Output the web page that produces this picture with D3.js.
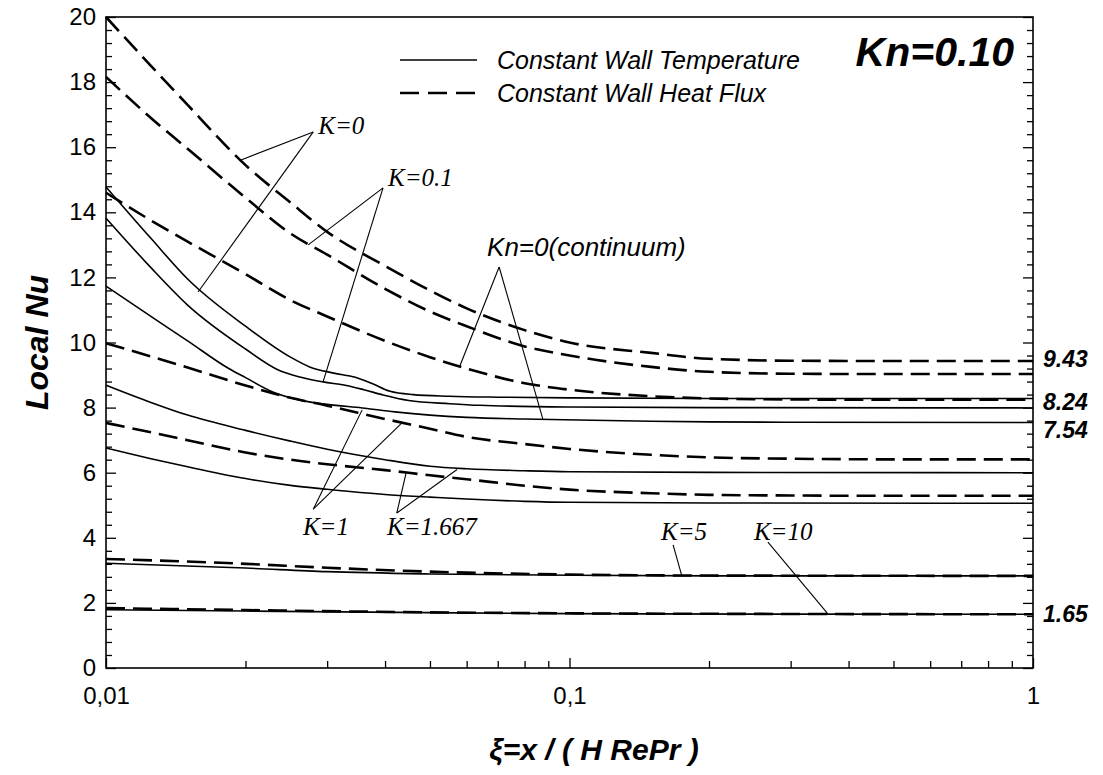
<!DOCTYPE html>
<html>
<head>
<meta charset="utf-8">
<script src="https://cdn.jsdelivr.net/npm/d3@7"></script>
<style>
  html, body { margin: 0; padding: 0; background: #fff; }
  svg { display: block; }
</style>
</head>
<body>
<svg id="chart" width="1103" height="775"></svg>
<script>
// Local Nusselt number along the channel, Kn = 0.10
// Each series: [xi, Nu] pairs

// Constant wall heat flux (dashed)
const fluxK0     = [[0.01,20.0],[0.0125,18.5],[0.015,17.3],[0.02,15.45],[0.025,14.3],[0.03,13.4],[0.04,12.35],[0.05,11.6],[0.06,11.05],[0.08,10.38],[0.1,10.0],[0.15,9.68],[0.2,9.5],[0.3,9.44],[0.5,9.43],[1,9.43]];
const fluxK01    = [[0.01,18.16],[0.0125,16.9],[0.015,15.95],[0.02,14.45],[0.025,13.35],[0.03,12.7],[0.04,11.65],[0.05,10.95],[0.06,10.5],[0.08,9.88],[0.1,9.6],[0.15,9.25],[0.2,9.1],[0.3,9.04],[0.5,9.03],[1,9.03]];
const fluxKn0    = [[0.01,14.6],[0.0125,13.75],[0.015,13.1],[0.02,12.1],[0.025,11.3],[0.03,10.8],[0.04,10.05],[0.05,9.55],[0.06,9.2],[0.08,8.75],[0.1,8.55],[0.15,8.35],[0.2,8.28],[0.3,8.25],[0.5,8.24],[1,8.24]];
const fluxK1     = [[0.01,9.98],[0.0125,9.57],[0.015,9.23],[0.02,8.68],[0.025,8.3],[0.03,8.06],[0.04,7.65],[0.05,7.35],[0.06,7.1],[0.08,6.88],[0.1,6.73],[0.15,6.55],[0.2,6.47],[0.3,6.43],[0.5,6.41],[1,6.41]];
const fluxK1667  = [[0.01,7.53],[0.0125,7.24],[0.015,7.0],[0.02,6.62],[0.025,6.4],[0.03,6.26],[0.04,6.08],[0.05,5.92],[0.06,5.8],[0.08,5.6],[0.1,5.48],[0.15,5.37],[0.2,5.32],[0.3,5.3],[0.5,5.29],[1,5.29]];
const fluxK5     = [[0.01,3.35],[0.02,3.2],[0.03,3.08],[0.05,2.96],[0.1,2.87],[0.2,2.84],[1,2.83]];
const fluxK10    = [[0.01,1.84],[0.02,1.78],[0.05,1.71],[0.1,1.68],[0.3,1.66],[1,1.65]];

// Constant wall temperature (solid)
const tempK0     = [[0.01,14.78],[0.0125,13.2],[0.015,11.95],[0.02,10.5],[0.025,9.55],[0.0275,9.25],[0.031,9.06],[0.0345,8.93],[0.0375,8.74],[0.041,8.5],[0.046,8.4],[0.055,8.35],[0.07,8.32],[0.1,8.3],[0.2,8.28],[1,8.28]];
const tempK01    = [[0.01,13.82],[0.0125,12.3],[0.015,11.15],[0.02,9.8],[0.0236,9.15],[0.0262,8.94],[0.0294,8.79],[0.033,8.68],[0.036,8.55],[0.0396,8.39],[0.045,8.22],[0.0552,8.12],[0.064,8.07],[0.1,8.02],[0.2,8.0],[1,7.99]];
const tempKn0    = [[0.01,11.73],[0.0125,10.8],[0.015,10.05],[0.0184,9.2],[0.02,8.92],[0.0229,8.48],[0.0262,8.23],[0.03,8.1],[0.0357,7.99],[0.042,7.87],[0.05,7.77],[0.06,7.7],[0.08,7.65],[0.105,7.62],[0.15,7.58],[0.2,7.56],[0.3,7.55],[1,7.54]];
const tempK1     = [[0.01,8.69],[0.0125,8.16],[0.015,7.77],[0.02,7.3],[0.025,6.97],[0.03,6.72],[0.04,6.4],[0.05,6.2],[0.06,6.12],[0.08,6.06],[0.1,6.03],[0.2,6.01],[1,6.0]];
const tempK1667  = [[0.01,6.76],[0.0125,6.43],[0.015,6.18],[0.02,5.82],[0.025,5.61],[0.03,5.49],[0.04,5.33],[0.05,5.25],[0.06,5.19],[0.08,5.12],[0.1,5.09],[0.2,5.07],[1,5.06]];
const tempK5     = [[0.01,3.22],[0.02,3.07],[0.03,2.96],[0.05,2.89],[0.1,2.85],[0.2,2.83],[1,2.83]];
const tempK10    = [[0.01,1.79],[0.02,1.75],[0.05,1.7],[0.1,1.67],[0.3,1.655],[1,1.65]];

const fluxSeries = [fluxK0, fluxK01, fluxKn0, fluxK1, fluxK1667, fluxK5, fluxK10];
const tempSeries = [tempK0, tempK01, tempKn0, tempK1, tempK1667, tempK5, tempK10];

// Axis ticks
const xTicks = [0.01, 0.1, 1];
const xTickLabels = ["0,01", "0,1", "1"];
const xMinorTicks = [0.02,0.03,0.04,0.05,0.06,0.07,0.08,0.09,0.2,0.3,0.4,0.5,0.6,0.7,0.8,0.9];
const yTicks = [0,2,4,6,8,10,12,14,16,18,20];
const yMinorTicks = d3.range(0, 20.001, 0.4).filter(v => Math.abs(v / 2 - Math.round(v / 2)) > 1e-6);

// Fully developed values written on the right side
const limitLabels = ["9.43", "8.24", "7.54", "1.65"];
const limitValues = [9.43, 8.24, 7.54, 1.65];
const limitShift  = [6, 10, 15, 8];

// Curve labels with leader lines: text anchor, apex, and end points (data coords)
const curveNotes = [
  { text: "K=0",   serif: true, at: [0.0287, 16.41], apex: [0.0280, 16.47], ends: [[0.0195, 15.6], [0.0158, 11.55]] },
  { text: "K=0.1", serif: true, at: [0.0406, 14.81], apex: [0.0396, 14.75], ends: [[0.0273, 13.0], [0.0294, 8.79]] },
  { text: "Kn=0(continuum)", serif: false, at: [0.0664, 12.66], apex: [0.0705, 12.32], ends: [[0.058, 9.28], [0.0877, 7.62]] },
  { text: "K=1",   serif: true, at: [0.0266, 4.09], apex: [0.0280, 4.88], ends: [[0.0357, 7.93], [0.0435, 7.53]] },
  { text: "K=1.667", serif: true, at: [0.0404, 4.09], apex: [0.0424, 4.76], ends: [[0.0444, 5.99], [0.0572, 6.1]] },
  { text: "K=5",   serif: true, at: [0.1576, 3.93], apex: [0.1673, 3.78], ends: [[0.1748, 2.82]] },
  { text: "K=10",  serif: true, at: [0.2500, 3.93], apex: [0.268, 3.87], ends: [[0.361, 1.66]] }
];

const legendItems = ["Constant Wall Temperature", "Constant Wall Heat Flux"];

const SANS = "'Liberation Sans', Arial, Helvetica, sans-serif";
const SERIF = "'Liberation Serif', 'Times New Roman', serif";

const svg = d3.select("#chart");
const plotLeft = 106, plotRight = 1033, plotTop = 17, plotBottom = 668;

const x = d3.scaleLog().domain([0.01, 1]).range([plotLeft, plotRight]);
const y = d3.scaleLinear().domain([0, 20]).range([plotBottom, plotTop]);

const line = d3.line()
  .x(d => x(d[0]))
  .y(d => y(d[1]))
  .curve(d3.curveMonotoneX);

const plot = svg.append("g");

// solid curves
plot.selectAll("path.temp").data(tempSeries).join("path")
  .attr("class", "temp")
  .attr("d", line)
  .attr("fill", "none")
  .attr("stroke", "#000")
  .attr("stroke-width", 1.6);

// dashed curves
plot.selectAll("path.flux").data(fluxSeries).join("path")
  .attr("class", "flux")
  .attr("d", line)
  .attr("fill", "none")
  .attr("stroke", "#000")
  .attr("stroke-width", 2.6)
  .attr("stroke-dasharray", "19,8");

// axes (ticks pointing inward)
function styleAxis(g) {
  g.select(".domain").remove();
  g.selectAll(".tick line").attr("stroke", "#000").attr("stroke-width", 1.3);
}

svg.append("g").attr("transform", `translate(${plotLeft},0)`)
  .call(d3.axisLeft(y).tickValues(yTicks).tickSize(-10).tickPadding(10).tickFormat(d3.format("d")))
  .call(styleAxis)
  .call(g => g.selectAll("text").attr("font-family", SANS).attr("font-size", 24).attr("fill", "#000"));

svg.append("g").attr("transform", `translate(${plotLeft},0)`)
  .call(d3.axisLeft(y).tickValues(yMinorTicks).tickSize(-6).tickFormat(""))
  .call(styleAxis);

svg.append("g").attr("transform", `translate(${plotRight},0)`)
  .call(d3.axisRight(y).tickValues(yTicks).tickSize(-10).tickFormat(""))
  .call(styleAxis);

svg.append("g").attr("transform", `translate(${plotRight},0)`)
  .call(d3.axisRight(y).tickValues(yMinorTicks).tickSize(-6).tickFormat(""))
  .call(styleAxis);

svg.append("g").attr("transform", `translate(0,${plotBottom})`)
  .call(d3.axisBottom(x).tickValues(xTicks).tickSize(-10).tickPadding(19).tickFormat((d, i) => xTickLabels[i]))
  .call(styleAxis)
  .call(g => g.selectAll("text").attr("font-family", SANS).attr("font-size", 24).attr("fill", "#000"));

svg.append("g").attr("transform", `translate(0,${plotBottom})`)
  .call(d3.axisBottom(x).tickValues(xMinorTicks).tickSize(-7).tickFormat(""))
  .call(styleAxis);

// frame
svg.append("rect")
  .attr("x", plotLeft).attr("y", plotTop)
  .attr("width", plotRight - plotLeft).attr("height", plotBottom - plotTop)
  .attr("fill", "none").attr("stroke", "#000").attr("stroke-width", 1.6);

// axis titles
svg.append("text")
  .attr("transform", `translate(48,${(plotTop + plotBottom) / 2}) rotate(-90)`)
  .attr("text-anchor", "middle")
  .attr("font-family", SANS).attr("font-weight", "bold").attr("font-style", "italic")
  .attr("font-size", 32)
  .text("Local Nu");

svg.append("text")
  .attr("x", 594).attr("y", 760)
  .attr("text-anchor", "middle")
  .attr("font-family", SANS).attr("font-weight", "bold").attr("font-style", "italic")
  .attr("font-size", 30)
  .text("ξ=x / ( H RePr )");

// legend
const legend = svg.append("g");
legendItems.forEach((label, i) => {
  const ly = 60 + i * 33;
  legend.append("line")
    .attr("x1", 400).attr("x2", 477).attr("y1", ly).attr("y2", ly)
    .attr("stroke", "#000")
    .attr("stroke-width", i === 0 ? 1.6 : 2.6)
    .attr("stroke-dasharray", i === 0 ? null : "19,9");
  legend.append("text")
    .attr("x", 497).attr("y", ly + 9)
    .attr("font-family", SANS).attr("font-style", "italic").attr("font-size", 25)
    .text(label);
});

// Knudsen number tag
svg.append("text")
  .attr("x", 1014).attr("y", 66)
  .attr("text-anchor", "end")
  .attr("font-family", SANS).attr("font-weight", "bold").attr("font-style", "italic")
  .attr("font-size", 41)
  .text("Kn=0.10");

// fully developed values
svg.selectAll("text.limit").data(limitValues).join("text")
  .attr("class", "limit")
  .attr("x", plotRight + 10)
  .attr("y", (d, i) => y(d) + limitShift[i])
  .attr("font-family", SANS).attr("font-weight", "bold").attr("font-style", "italic")
  .attr("font-size", 23)
  .text((d, i) => limitLabels[i]);

// curve labels and leaders
const notes = svg.append("g");
curveNotes.forEach(n => {
  n.ends.forEach(e => {
    notes.append("line")
      .attr("x1", x(n.apex[0])).attr("y1", y(n.apex[1]))
      .attr("x2", x(e[0])).attr("y2", y(e[1]))
      .attr("stroke", "#000").attr("stroke-width", 1.1);
  });
  notes.append("text")
    .attr("x", x(n.at[0])).attr("y", y(n.at[1]))
    .attr("font-family", n.serif ? SERIF : SANS)
    .attr("font-style", "italic")
    .attr("font-size", n.serif ? 25 : 26)
    .text(n.text);
});
</script>
</body>
</html>
